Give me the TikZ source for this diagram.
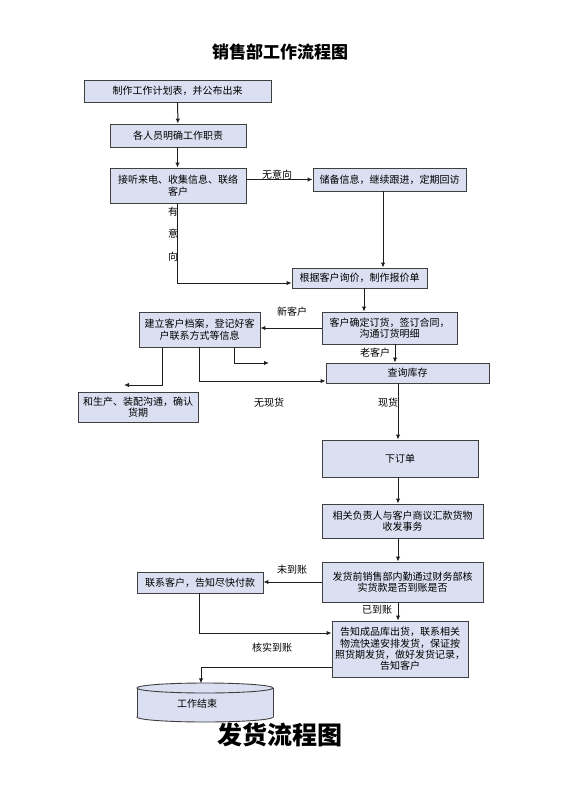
\documentclass[tikz,border=0pt]{standalone}
\usepackage{fontspec}
\setmainfont{Noto Sans CJK SC}
\usetikzlibrary{arrows.meta,calc}
\definecolor{boxfill}{RGB}{218,223,241}
\definecolor{boxline}{RGB}{64,64,64}
\definecolor{linecol}{RGB}{30,30,30}
\tikzset{
  box/.style={draw=boxline, fill=boxfill, line width=0.9pt, inner sep=1pt, align=center,
    font=\fontsize{10}{11.5}\selectfont},
  arr/.style={draw=linecol, line width=1pt, -{Latex[length=5pt,width=4.5pt]}},
  ln/.style={draw=linecol, line width=1pt},
  lbl/.style={font=\fontsize{10}{11}\selectfont, inner sep=0pt},
}
\begin{document}
\begin{tikzpicture}[x=1pt,y=-1pt]
\useasboundingbox (0,0) rectangle (560,792);
% titles
\node[font=\fontsize{17}{19}\selectfont\bfseries] (t1) at (280,52) {销售部工作流程图};
\node[font=\fontsize{25}{27}\selectfont\bfseries] (t2) at (280,735) {发货流程图};
% boxes
\node[box, minimum width=187pt, minimum height=22pt] (b1) at (177.5,91) {制作工作计划表，并公布出来};
\node[box, minimum width=136pt, minimum height=23pt] (b2) at (178,135.5) {各人员明确工作职责};
\node[box, minimum width=136pt, minimum height=35pt] (b3) at (178,185.5) {接听来电、收集信息、联络\\客户};
\node[box, minimum width=153pt, minimum height=23pt] (b4) at (389.5,179.5) {储备信息，继续跟进，定期回访};
\node[box, minimum width=135pt, minimum height=20pt] (b5) at (359.5,278) {根据客户询价，制作报价单};
\node[box, minimum width=135pt, minimum height=32pt] (b6) at (389.5,328) {客户确定订货，签订合同，\\沟通订货明细};
\node[box, minimum width=121pt, minimum height=35pt] (b7) at (199.5,329.5) {建立客户档案，登记好客\\户联系方式等信息};
\node[box, minimum width=163pt, minimum height=20pt] (b8) at (407.5,373) {查询库存};
\node[box, minimum width=120pt, minimum height=30pt] (b9) at (138,407) {和生产、装配沟通，确认\\货期};
\node[box, minimum width=156pt, minimum height=37pt] (b10) at (400,458.5) {下订单};
\node[box, minimum width=161pt, minimum height=34pt] (b11) at (402.5,521) {相关负责人与客户商议汇款货物\\收发事务};
\node[box, minimum width=161pt, minimum height=40pt] (b12) at (402.5,582) {发货前销售部内勤通过财务部核\\实货款是否到账是否};
\node[box, minimum width=126pt, minimum height=21pt] (b13) at (200,582.5) {联系客户，告知尽快付款};
\node[box, minimum width=136pt, minimum height=56pt, font=\fontsize{10}{11.3}\selectfont] (b14) at (400,649) {告知成品库出货，联系相关\\物流快递安排发货，保证按\\照货期发货，做好发货记录，\\告知客户};
% cylinder end
\node[minimum width=136pt, minimum height=39pt, inner sep=0pt] (end) at (205,702.5) {};
\filldraw[fill=boxfill, draw=boxline, line width=0.9pt] (205,717) ellipse [x radius=68pt, y radius=5pt];
\fill[boxfill] (137,688) rectangle (273,717);
\draw[boxline, line width=0.9pt] (137,688) -- (137,717) (273,688) -- (273,717);
\filldraw[fill=boxfill, draw=boxline, line width=0.9pt] (205,688) ellipse [x radius=68pt, y radius=5pt];
\node[lbl] at (197,704) {工作结束};
% connectors
\draw[arr] (b1) -- (b2);
\draw[arr] (b2.south -| b1.south) -- (b3.north -| b1.south);
\draw[arr] (b3.east |- b4.west) -- (b4.west);
\draw[arr] ([xshift=-0.5pt]b3.south) |- ([yshift=-5pt]b5.west);
\draw[arr] ([xshift=-6.5pt]b4.south) -- ([xshift=-6.5pt]b4.south |- b5.north);
\draw[arr] ([xshift=4.5pt]b5.south) -- ([xshift=4.5pt]b5.south |- b6.north);
\draw[arr] (b6.west) -- (b6.west -| b7.east);
\draw[arr] ([xshift=5.5pt]b6.south) -- ([xshift=5.5pt]b6.south |- b8.north);
\coordinate (fa) at (124,385);
\coordinate (fb) at (269,363);
\draw[arr] ([xshift=-37.5pt]b7.south) |- (fa);
\draw[arr] ([xshift=-0.5pt]b7.south) |- ([yshift=-8pt]b8.west);
\draw[arr] ([xshift=34.5pt]b7.south) |- (fb);
\draw[arr] ([xshift=-9.5pt]b8.south) -- ([xshift=-9.5pt]b8.south |- b10.north);
\draw[arr] ([xshift=-2pt]b10.south) -- ([xshift=-2pt]b10.south |- b11.north);
\draw[arr] ([xshift=-4.5pt]b11.south) -- ([xshift=-4.5pt]b11.south |- b12.north);
\draw[arr] (b12.west) -- (b12.west -| b13.east);
\draw[arr] ([xshift=-1pt]b13.south) |- ([yshift=16pt]b14.west);
\draw[arr] ([xshift=-4.5pt]b12.south) -- ([xshift=-4.5pt]b12.south |- b14.north);
\draw[arr] ([yshift=-18pt]b14.west) -| ([xshift=-4pt,yshift=-0.5pt]end.north);
% labels
\node[lbl] at (277,175) {无意向};
\node[lbl] at (173,212) {有};
\node[lbl] at (173,234) {意};
\node[lbl] at (173,257) {向};
\node[lbl] at (292,312) {新客户};
\node[lbl] at (375,353) {老客户};
\node[lbl] at (269,403) {无现货};
\node[lbl] at (388,403) {现货};
\node[lbl] at (292,570) {未到账};
\node[lbl] at (377,610) {已到账};
\node[lbl] at (272,648) {核实到账};
\end{tikzpicture}
\end{document}
